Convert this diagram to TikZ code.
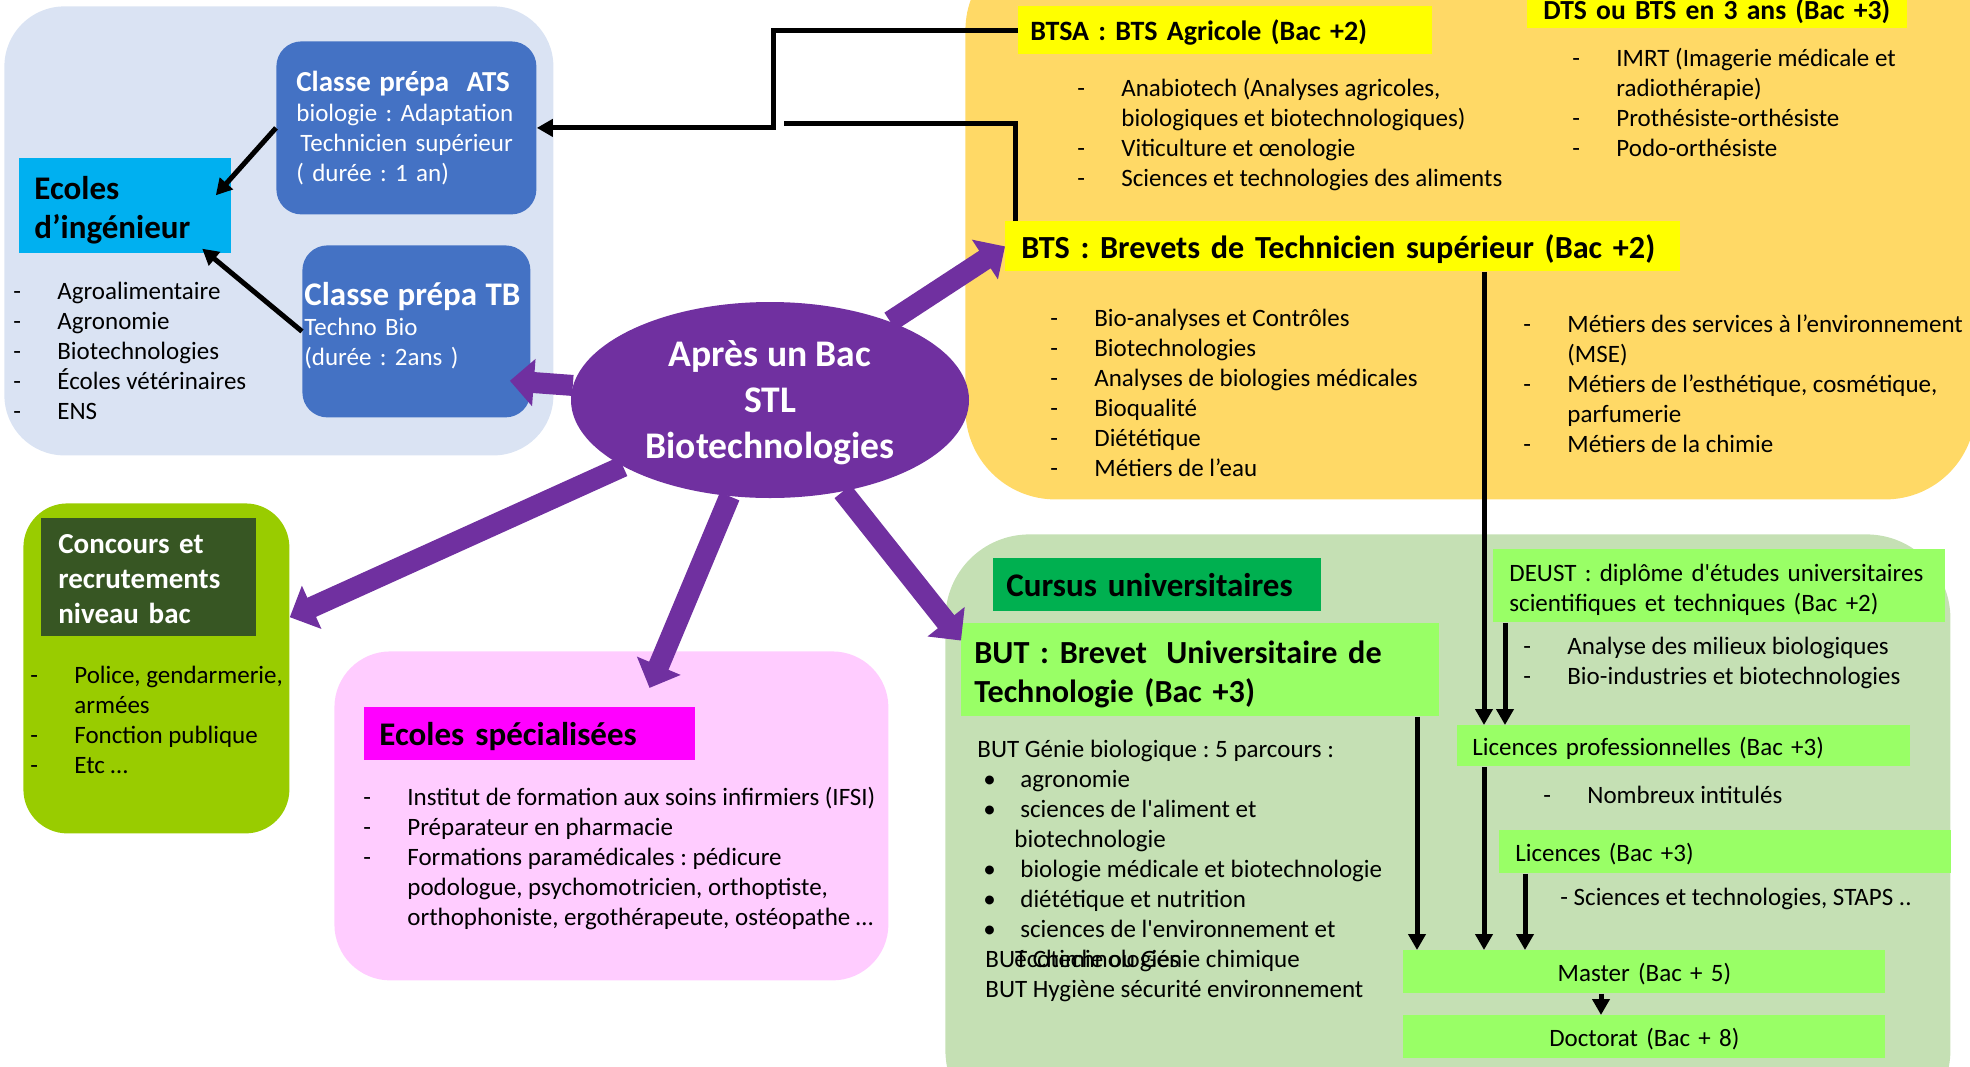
\documentclass[tikz,border=0pt]{standalone}
\usepackage{fontspec}
\setmainfont{Carlito}
\usetikzlibrary{arrows.meta,shapes.geometric}
\frenchspacing

\definecolor{fondbleu}{HTML}{DAE3F3}
\definecolor{prepa}{HTML}{4472C4}
\definecolor{bleuciel}{HTML}{00B0F0}
\definecolor{violetbac}{HTML}{7030A0}
\definecolor{fondjaune}{HTML}{FFD966}
\definecolor{jaunevif}{HTML}{FFFF00}
\definecolor{fondvert}{HTML}{C5E0B4}
\definecolor{vertfonce}{HTML}{00B050}
\definecolor{vertclair}{HTML}{99FF66}
\definecolor{vertanis}{HTML}{99CC00}
\definecolor{vertsombre}{HTML}{375623}
\definecolor{fondrose}{HTML}{FFCCFF}
\definecolor{rosevif}{HTML}{FF00FF}

\newcommand{\corps}{\fontsize{12.5}{15}\selectfont}
\newcommand{\titre}{\fontsize{16.5}{19.5}\selectfont\bfseries}
\newcommand{\soustitre}{\fontsize{14.5}{17.5}\selectfont\bfseries}
\newcommand{\tiret}[1]{\makebox[22pt][l]{-}#1}
\newcommand{\retrait}{\hspace*{22pt}}
\newcommand{\puce}[1]{\makebox[21.5pt][l]{\hspace{3pt}•}#1}

\begin{document}
\begin{tikzpicture}[x=0.5pt, y=-0.5pt, font=\corps,
		zone/.style={anchor=north west, inner sep=0pt},
		etiq/.style={anchor=north west, inner ysep=0pt, align=left, text depth=0pt},
		lignes/.style={text height=0pt, text depth=#1},
		liste/.style={anchor=north west, inner sep=0pt, align=left},
		fil/.style={line width=2.5pt},
		fleche/.style={fil, -{Triangle[width=8.5pt,length=8pt]}},
		grosse/.style={draw=violetbac, line width=10.5pt, -{Triangle[width=23pt,length=12pt]}}]
	\useasboundingbox (0,0) rectangle (1970,1066);
	\clip (0,0) rectangle (1970,1066);

	% Fonds des zones
	\node[zone, fill=fondbleu, rounded corners=30pt, minimum width=274.5pt, minimum height=224.5pt] (zoneprepa) at (4,6) {};
	\node[zone, fill=fondjaune, rounded corners=45pt, minimum width=505pt, minimum height=279.5pt] (zonebts) at (965,-60) {};
	\node[zone, fill=fondvert, rounded corners=42pt, minimum width=502.5pt, minimum height=300pt] (zoneuniv) at (945,534) {};
	\node[zone, fill=vertanis, rounded corners=22pt, minimum width=133pt, minimum height=165pt] (zoneconc) at (23,503) {};
	\node[zone, fill=fondrose, rounded corners=28pt, minimum width=277pt, minimum height=164.5pt] (zonespe) at (334,651) {};

	% Prepas et ecoles d'ingenieur
	\node[etiq, lignes=36pt, fill=prepa, text=white, rounded corners=12.5pt, minimum width=130pt, minimum height=86.5pt, inner xsep=10pt, text width=110pt] (ats) at (276,41)
		{\mbox{\soustitre Classe prépa\hspace{0.6em}ATS}\\\mbox{biologie : Adaptation}\\\mbox{\hspace*{2pt}Technicien supérieur}\\( durée : 1 an)};
	\node[etiq, lignes=26pt, fill=prepa, text=white, rounded corners=12.5pt, minimum width=114pt, minimum height=86pt, inner xsep=1pt, text width=112pt] (tb) at (302,245)
		{\mbox{\titre Classe prépa TB}\\Techno Bio\\(durée : 2ans )};
	\node[etiq, lignes=6.5pt, fill=bleuciel, font=\titre, minimum width=106pt, minimum height=47.5pt, inner xsep=7.5pt, text width=91pt] (ing) at (19,158)
		{Ecoles\\d’ingénieur};
	\node[liste] (ingliste) at (13,282)
		{\tiret{Agroalimentaire}\\\tiret{Agronomie}\\\tiret{Biotechnologies}\\\tiret{Écoles vétérinaires}\\\tiret{ENS}};

	% Au centre
	\node[ellipse, text height=58pt, text depth=0pt, fill=violetbac, text=white, minimum width=199pt, minimum height=98pt, inner sep=0pt, align=center,
		font=\fontsize{18.8}{22.8}\selectfont\bfseries] (bac) at (770,400) {Après un Bac\\STL\\Biotechnologies};

	% BTS
	\node[etiq, fill=jaunevif, font=\fontsize{14}{17}\selectfont\bfseries, minimum width=207pt, minimum height=24pt, inner xsep=6pt, text width=195pt] (btsa) at (1018,6)
		{\mbox{BTSA : BTS Agricole (Bac +2)}};
	\node[liste] (btsaliste) at (1077,78)
		{\tiret{Anabiotech (Analyses agricoles,}\\\retrait biologiques et biotechnologiques)\\\tiret{Viticulture et œnologie}\\\tiret{Sciences et technologies des aliments}};
	\node[etiq, fill=jaunevif, font=\fontsize{13.8}{17}\selectfont\bfseries, minimum width=190pt, minimum height=19pt, inner xsep=8pt, text width=174pt] (dts) at (1527,-10)
		{\mbox{DTS ou BTS en 3 ans (Bac +3)}};
	\node[liste] (dtsliste) at (1572,48)
		{\tiret{IMRT (Imagerie médicale et}\\\retrait radiothérapie)\\\tiret{Prothésiste-orthésiste}\\\tiret{Podo-orthésiste}};
	\node[etiq, fill=jaunevif, font=\fontsize{16.1}{19.5}\selectfont\bfseries, minimum width=337.5pt, minimum height=25pt, inner xsep=8pt, text width=321.5pt] (bts) at (1005,221)
		{\mbox{BTS : Brevets de Technicien supérieur (Bac +2)}};
	\node[liste] (btsgauche) at (1050,309)
		{\tiret{Bio-analyses et Contrôles}\\\tiret{Biotechnologies}\\\tiret{Analyses de biologies médicales}\\\tiret{Bioqualité}\\\tiret{Diététique}\\\tiret{Métiers de l’eau}};
	\node[liste] (btsdroite) at (1523,314)
		{\tiret{Métiers des services à l’environnement}\\\retrait (MSE)\\\tiret{Métiers de l’esthétique, cosmétique,}\\\retrait parfumerie\\\tiret{Métiers de la chimie}};

	% Cursus universitaires
	\node[etiq, fill=vertfonce, font=\titre, minimum width=164pt, minimum height=26.5pt, inner xsep=6.5pt, text width=151pt] (cursus) at (993,558)
		{Cursus universitaires};
	\node[etiq, lignes=6.5pt, fill=vertclair, font=\fontsize{16.1}{19.5}\selectfont\bfseries, minimum width=239pt, minimum height=46.5pt, inner xsep=6.5pt, text width=226pt] (but) at (961,623)
		{BUT : Brevet\hspace{0.6em}Universitaire de\\Technologie (Bac +3)};
	\node[liste] (butliste) at (977,740)
		{BUT Génie biologique : 5 parcours :\\\puce{agronomie}\\\puce{sciences de l\textquotesingle aliment et}\\\hspace*{18.5pt}biotechnologie\\
		\puce{biologie médicale et biotechnologie}\\\puce{diététique et nutrition}\\\puce{sciences de l\textquotesingle environnement et}\\
		\makebox[0pt][l]{\hspace{18.5pt}écotechnologies}\hspace*{4pt}BUT Chimie ou Génie chimique\\\hspace*{4pt}BUT Hygiène sécurité environnement};
	\node[etiq, lignes=4.5pt, fill=vertclair, minimum width=226pt, minimum height=36.5pt, inner xsep=8pt, text width=210pt] (deust) at (1493,549)
		{DEUST : diplôme d\textquotesingle études universitaires\\scientifiques et techniques (Bac +2)};
	\node[liste] (deustliste) at (1523,637)
		{\tiret{Analyse des milieux biologiques}\\\tiret{Bio-industries et biotechnologies}};
	\node[etiq, fill=vertclair, minimum width=226.5pt, minimum height=20.5pt, inner xsep=7.5pt, text width=211.5pt] (lpro) at (1457,725)
		{Licences professionnelles (Bac +3)};
	\node[liste] (lproliste) at (1543,786) {\tiret{Nombreux intitulés}};
	\node[etiq, fill=vertclair, minimum width=226pt, minimum height=21.5pt, inner xsep=8pt, text width=210pt] (lic) at (1499,830)
		{Licences (Bac +3)};
	\node[liste] (licliste) at (1560,888) {- Sciences et technologies, STAPS ..};
	\node[etiq, fill=vertclair, align=center, minimum width=241pt, minimum height=21.5pt, inner xsep=8pt, text width=225pt] (master) at (1403,950)
		{Master (Bac + 5)};
	\node[etiq, fill=vertclair, align=center, minimum width=241pt, minimum height=21.5pt, inner xsep=8pt, text width=225pt] (doct) at (1403,1015)
		{Doctorat (Bac + 8)};

	% Concours
	\node[etiq, lignes=23.5pt, fill=vertsombre, text=white, font=\soustitre, minimum width=107.5pt, minimum height=59pt, inner xsep=8.5pt, text width=90.5pt] (conc) at (41,518)
		{Concours et\\recrutements\\niveau bac};
	\node[liste] (concliste) at (30,666)
		{\tiret{Police, gendarmerie,}\\\retrait armées\\\tiret{Fonction publique}\\\tiret{Etc …}};

	% Ecoles specialisees
	\node[etiq, fill=rosevif, font=\titre, minimum width=165.5pt, minimum height=26.5pt, inner xsep=7.5pt, text width=150.5pt] (spe) at (364,707)
		{Ecoles spécialisées};
	\node[liste] (speliste) at (363,787)
		{\tiret{Institut de formation aux soins infirmiers (IFSI)}\\\tiret{Préparateur en pharmacie}\\\tiret{Formations paramédicales : pédicure}\\
		\retrait podologue, psychomotricien, orthoptiste,\\\retrait orthophoniste, ergothérapeute, ostéopathe …};

	% Liaisons noires
	\coordinate (finbts) at (784,123);
	\draw[fleche] (btsa.west) -- ++(-245,0) |- (ats.east);
	\draw[fil] ([xshift=5pt]bts.north west) |- (finbts);
	\draw[fleche, shorten >=-12pt] (ats.west) -- (ing.15);
	\draw[fleche, shorten >=-4pt] (tb.west) -- (ing.-30);

	% Fleches vers master et licences
	\coordinate (xa) at (1417,0);
	\coordinate (xb) at (1484,0);
	\coordinate (xc) at (1505,0);
	\coordinate (xd) at (1525,0);
	\coordinate (xe) at (1601,0);
	\draw[fleche] (bts.south -| xb) -- (lpro.north -| xb);
	\draw[fleche] (deust.south -| xc) -- (lpro.north -| xc);
	\draw[fleche] (but.south -| xa) -- (master.north -| xa);
	\draw[fleche] (lpro.south -| xb) -- (master.north -| xb);
	\draw[fleche] (lic.south -| xd) -- (master.north -| xd);
	\draw[fleche] (master.south -| xe) -- (doct.north -| xe);

	% Grosses fleches violettes
	\draw[grosse, shorten >=-10.5pt] (bac) -- (tb.-24);
	\draw[grosse] (bac) -- (bts.west);
	\draw[grosse] (bac) -- (zoneconc.21);
	\draw[grosse, shorten >=-20pt] (bac) -- (zonespe.72);
	\draw[grosse] (bac) -- (but.173);
\end{tikzpicture}
\end{document}
